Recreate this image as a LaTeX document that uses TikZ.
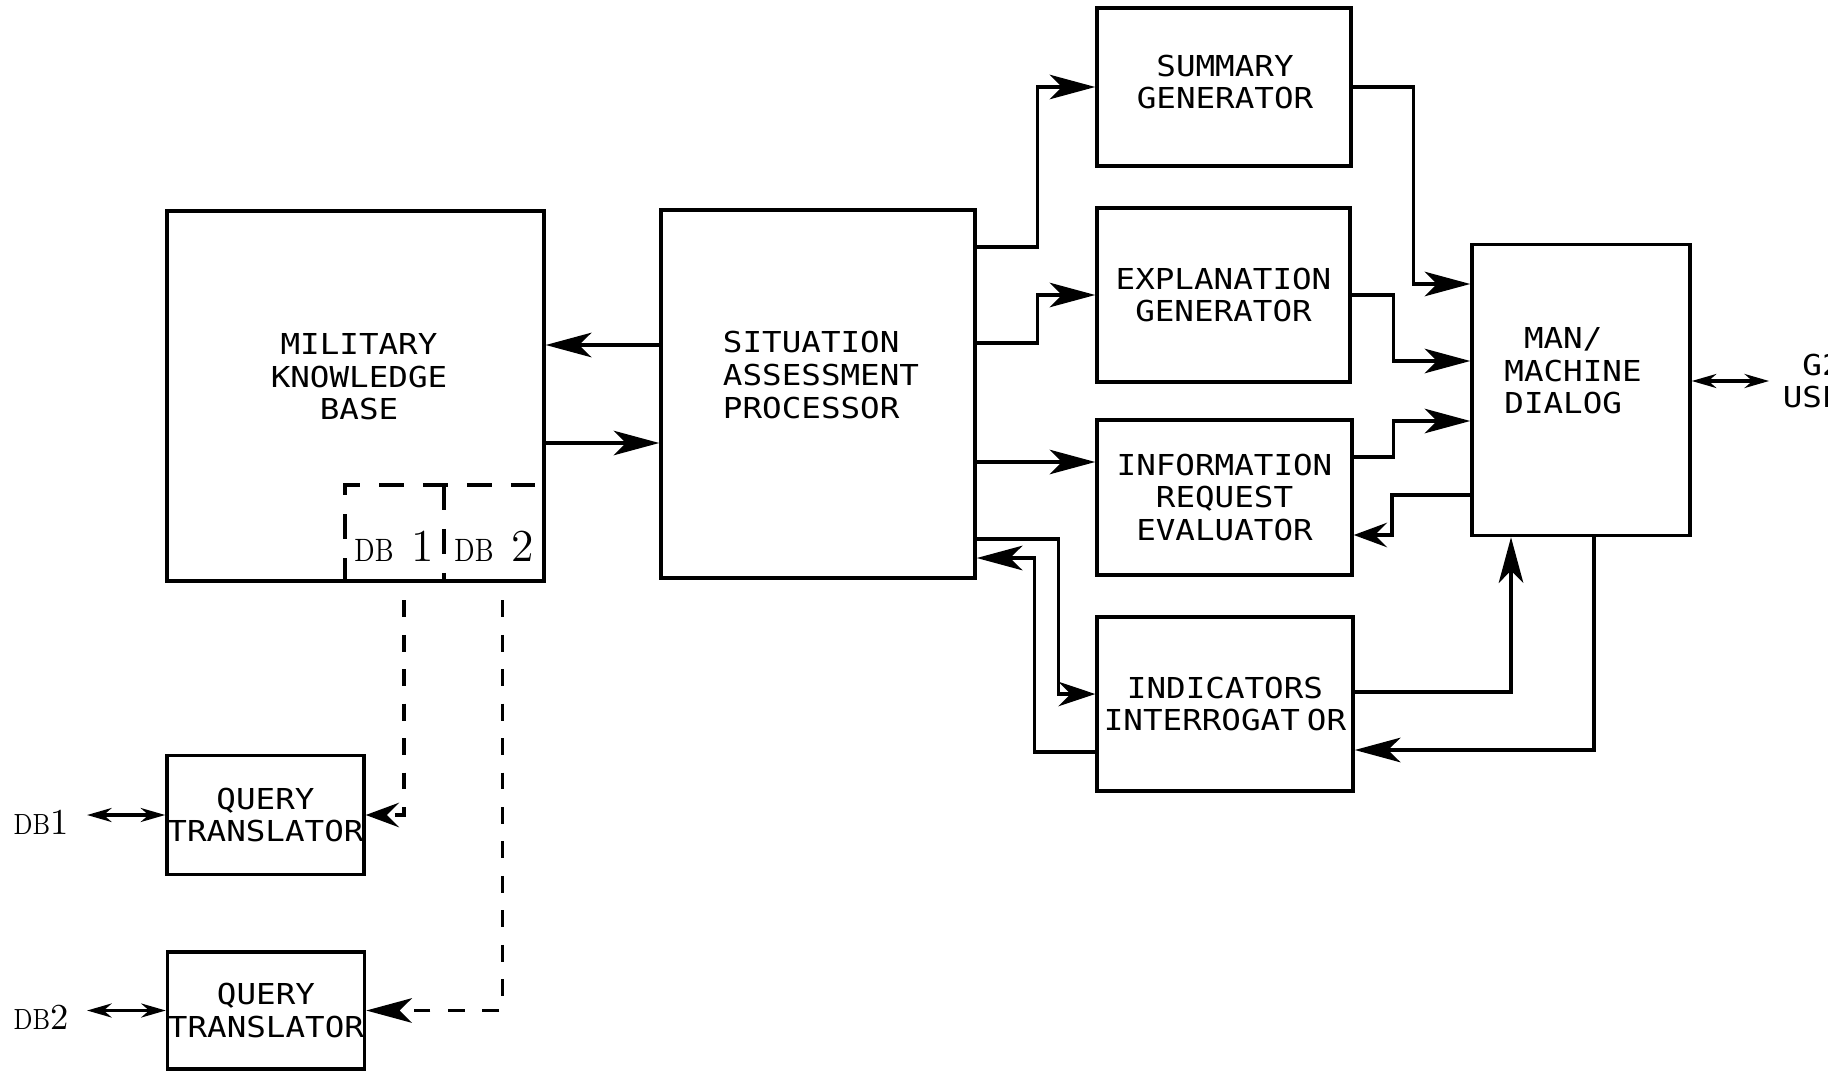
\documentclass[tikz,border=0pt]{standalone}
\usepackage{fontspec}
\usepackage{tikz}
\usetikzlibrary{arrows.meta, positioning, calc}
\newfontfamily\boxfont[FakeStretch=1.13]{DejaVu Sans Mono}
% #1 size of DB, #2 size of digit, #3 gap, #4 digit
\newcommand{\dbname}[4]{{\fontsize{#1}{#1}\selectfont\scalebox{0.8}[1]{DB}}#3{\fontsize{#2}{#2}\selectfont #4}}

\begin{document}
\begin{tikzpicture}[
    txt/.style={font=\boxfont\fontsize{8.2}{9.3}\selectfont, align=center, inner sep=0pt},
    box/.style 2 args={draw, line width=1pt, minimum width=#1cm, minimum height=#2cm, txt},
    wire/.style={line width=0.9pt},
    arr/.style={wire, -{Stealth[length=#1, width=7pt, inset=3.5pt]}},
    arr/.default=13pt,
    dbl/.style={line width=0.9pt, >={Stealth[length=7pt, width=4pt]}, <->},
    dsh/.style={dash pattern=on 4.8pt off 5pt, dash phase=4.8pt},
    dbdsh/.style={wire, dash pattern=on 7pt off 5.5pt},
    dbtxt/.style={inner sep=0pt},
    extlbl/.style={inner xsep=0.18cm}
  ]
  \useasboundingbox (0,0) rectangle (18.28,-10.71);
  % blocks
  \node[box={3.77}{3.70}] (mkb) at (3.555,-3.96) {};
  \node[txt] (mkbt) at (3.59,-3.77) {MILITARY\\KNOWLEDGE\\BASE};
  \node[box={3.14}{3.68}] (sap) at (8.18,-3.94) {};
  \node[txt, align=left] (sapt) at (8.21,-3.75) {SITUATION\\ASSESSMENT\\PROCESSOR};
  \node[box={2.54}{1.58}] (sg) at (12.24,-0.87) {};
  \node[txt] (sgt) at (12.25,-0.82) {SUMMARY\\GENERATOR};
  \node[box={2.53}{1.74}] (eg) at (12.235,-2.95) {EXPLANATION\\GENERATOR};
  \node[box={2.55}{1.55}] (ire) at (12.245,-4.975) {INFORMATION\\REQUEST\\EVALUATOR};
  \node[box={2.56}{1.74}] (ii) at (12.25,-7.04) {INDICATORS\\INTERROGAT\hspace{2pt}OR};
  \node[box={2.18}{2.91}] (mmd) at (15.81,-3.90) {};
  \node[txt, align=left] (mmdt) at (15.73,-3.71) {\hphantom{M}MAN/\\MACHINE\\DIALOG};
  \node[box={1.97}{1.19}] (qt1) at (2.655,-8.15) {QUERY\\TRANSLATOR};
  \node[box={1.97}{1.17}] (qt2) at (2.66,-10.105) {QUERY\\TRANSLATOR};
  \node[txt, inner xsep=0.13cm] (g2) at (18.22,-3.81) {G2\\USER};
  \node[extlbl] (db1) at (0.41,-8.22) {\dbname{8.3}{10.4}{}{1}};
  \node[extlbl] (db2) at (0.41,-10.17) {\dbname{8.3}{10.4}{}{2}};

  % data bases inside the knowledge base
  \draw[dbdsh] (mkb.south -| 3.45,0) -- (3.45,-4.85) -- (mkb.east |- 0,-4.85);
  \draw[dbdsh] (4.44,-4.85) -- (mkb.south -| 4.44,0);
  \node[dbtxt] (db1t) at (3.94,-5.46) {\dbname{9.2}{13}{\hspace{5pt}}{1}};
  \node[dbtxt] (db2t) at (4.94,-5.46) {\dbname{9.2}{13}{\hspace{5pt}}{2}};

  % connections
  \draw[arr] (sap.west |- 0,-3.45) -- (mkb.east |- 0,-3.45);
  \draw[arr] (mkb.east |- 0,-4.43) -- (sap.west |- 0,-4.43);
  \draw[arr] (sap.east |- 0,-2.47) -- ++(0.61,0) |- (sg.west);
  \draw[arr] (sap.east |- 0,-3.43) -- ++(0.61,0) |- (eg.west);
  \draw[arr] (sap.east |- 0,-4.62) -- (ire.west |- 0,-4.62);
  \draw[arr=10.5pt] (sap.east |- 0,-5.39) -- ++(0.82,0) |- (ii.west |- 0,-6.94);
  \draw[arr] (ii.west |- 0,-7.52) -- ++(-0.61,0) |- (sap.east |- 0,-5.58);
  \draw[arr] (sg.east) -- ++(0.61,0) |- (mmd.west |- 0,-2.84);
  \draw[arr] (eg.east) -- ++(0.42,0) |- (mmd.west |- 0,-3.61);
  \draw[arr] (ire.east |- 0,-4.57) -- ++(0.40,0) |- (mmd.west |- 0,-4.21);
  \draw[arr=9.5pt] (mmd.west |- 0,-4.95) -| (13.92,-5.35) -- (ire.east |- 0,-5.35);
  \draw[arr] (ii.east |- 0,-6.92) -| (mmd.south -| 15.11,0);
  \draw[arr] (mmd.south -| 15.94,0) |- (ii.east |- 0,-7.50);
  \draw[dbl] (mmd.east |- g2.west) -- (g2.west);
  \draw[dbl] (db1.east |- qt1.west) -- (qt1.west);
  \draw[dbl] (db2.east |- qt2.west) -- (qt2.west);
  \draw[arr=9.5pt, dsh] (mkb.south -| 4.04,0) |- (qt1.east);
  \draw[arr, dsh] (mkb.south -| 5.025,0) |- (qt2.east);
\end{tikzpicture}
\end{document}
